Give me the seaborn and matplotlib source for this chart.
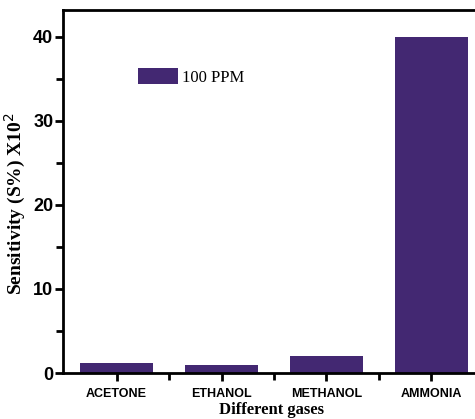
import matplotlib
matplotlib.use("Agg")
import matplotlib.pyplot as plt
import seaborn as sns
import pandas as pd
from matplotlib.ticker import MultipleLocator, FixedLocator

gases = ["ACETONE", "ETHANOL", "METHANOL", "AMMONIA"]
sensitivity = [1.15, 0.92, 2.06, 40.0]
series_label = "100 PPM"
bar_color = "#432872"

sns.set_style("ticks")
plt.rcParams['font.family'] = ['Liberation Serif', 'DejaVu Serif']
plt.rcParams['text.color'] = 'black'
plt.rcParams['axes.labelcolor'] = 'black'
plt.rcParams['xtick.color'] = 'black'
plt.rcParams['ytick.color'] = 'black'

df = pd.DataFrame({"gas": gases, "sens": sensitivity})

fig = plt.figure(figsize=(4.75, 4.19), dpi=100)
ax = fig.add_axes([63/475, 46/419, 1 - 63/475 + 0.01, 363/419])

sns.barplot(data=df, x="gas", y="sens", color=bar_color, width=0.7,
            saturation=1, label=series_label, ax=ax, edgecolor="none")

ax.set_xlim(-0.51, 3.46)
ax.set_ylim(0, 43.2)
ax.yaxis.set_major_locator(MultipleLocator(10))
ax.yaxis.set_minor_locator(MultipleLocator(5))
ax.xaxis.set_minor_locator(FixedLocator([0.5, 1.5, 2.5]))

for s in ["left", "bottom", "top"]:
    ax.spines[s].set_linewidth(2)
    ax.spines[s].set_color("black")
ax.spines["right"].set_visible(False)

ax.tick_params(axis="both", which="major", direction="out", length=6, width=2,
               color="black", labelcolor="black")
ax.tick_params(axis="both", which="minor", direction="out", length=5, width=2, color="black")
ax.tick_params(axis="x", which="major", pad=5)
ax.tick_params(axis="y", which="major", pad=1)

for lab in ax.get_yticklabels():
    lab.set_family(["Liberation Sans", "DejaVu Sans"])
    lab.set_fontweight("bold")
    lab.set_fontsize(13)
for lab in ax.get_xticklabels():
    lab.set_family(["Liberation Sans", "DejaVu Sans"])
    lab.set_fontweight("bold")
    lab.set_fontsize(9)

ax.set_ylabel("Sensitivity (S%) X10$^2$", fontsize=14, fontweight="bold")
ax.yaxis.set_label_coords(-0.085, 0.468)
ax.set_xlabel("Different gases", fontsize=12, fontweight="bold", labelpad=1)

leg = ax.legend(loc="upper left", bbox_to_anchor=(0.18, 0.84), frameon=False,
                fontsize=12, handlelength=2.4, handleheight=1.1,
                borderpad=0, borderaxespad=0, handletextpad=0.25)

fig.savefig("out.png", dpi=100)
